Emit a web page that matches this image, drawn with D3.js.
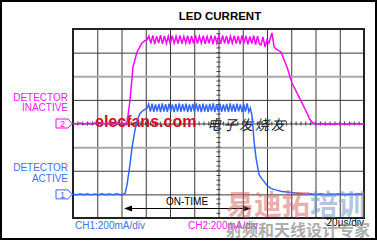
<!DOCTYPE html>
<html>
<head>
<meta charset="utf-8">
<script src="https://cdn.jsdelivr.net/npm/d3@7"></script>
<style>
body { margin: 0; background: #fff; }
svg { display: block; font-family: "Liberation Sans", Arial, sans-serif; }
</style>
</head>
<body>
<div id="chart"></div>
<script>
// scope capture, 12 div x 20us, 8 div vertical, 200mA/div per channel
var timeTicks = [0, 20, 40, 60, 80, 100, 120, 140, 160, 180, 200, 220, 240];
var divTicks = [0, 1, 2, 3, 4, 5, 6, 7, 8];
var ch1Offset = 1;   // div position of CH1 ground marker
var ch2Offset = 4;   // div position of CH2 ground marker

// CH2 : detector inactive [us, mA]
var ch2Trace = [
  [0, 5], [3, -5], [6, 3], [9, -4], [12, 4], [15, -3], [18, 5], [21, -2], [24, 4], [27, -4],
  [30, 3], [33, -3], [36, 4], [39, -2], [42, 3], [44.5, 0], [47, 199], [49.5, 479], [52.8, 606],
  [56.9, 682], [59, 700], [61, 708],
  [62.6, 742], [64.2, 676], [65.8, 746], [67.4, 672], [69.0, 740], [70.6, 680], [72.2, 748],
  [73.8, 674], [75.4, 742], [77.0, 678], [78.6, 738], [80.2, 672], [81.8, 744], [83.4, 680],
  [85.0, 740], [86.6, 676], [88.2, 746], [89.8, 674], [91.4, 738], [93.0, 680], [94.6, 744],
  [96.2, 672], [97.8, 742], [99.4, 678], [101.0, 748], [102.6, 676], [104.2, 740], [105.8, 680],
  [107.4, 744], [109.0, 674], [110.6, 738], [112.2, 678], [113.8, 746], [115.4, 672], [117.0, 742],
  [118.6, 680], [120.2, 740], [121.8, 674], [123.4, 746], [125.0, 678], [126.6, 742], [128.2, 672],
  [129.8, 738], [131.4, 680], [133.0, 744], [134.6, 676], [136.2, 740], [137.8, 672], [139.4, 746],
  [141.0, 678], [142.6, 742], [144.2, 670], [145.8, 738], [147.4, 676], [149.0, 744], [150.6, 668],
  [152.2, 740], [153.8, 672],
  [155.1, 665], [156.7, 733], [158.4, 648], [160, 708], [161.6, 682], [164.1, 767], [165.8, 648],
  [167.4, 631], [171.5, 606], [176.5, 479], [180.6, 343], [186.4, 225], [190, 150], [193, 89],
  [195, 40], [197.1, 13], [199, 0], [202, -6], [205, 2], [208, -8], [211, -3], [214, -9], [217, 0],
  [220, -6], [223, -2], [226, -8], [229, 1], [232, -5], [235, -1], [238, -6], [240, -3]
];

// CH1 : detector active [us, mA]
var ch1Trace = [
  [0, 3], [3, -3], [6, 4], [9, -2], [12, 5], [15, -4], [18, 3], [21, -3], [24, 5], [27, -2],
  [30, 4], [33, -3], [36, 5], [39, -2], [41.5, 4], [42.9, 8], [44.5, 76], [47, 254], [48.7, 398],
  [51.1, 542], [53, 630], [55.3, 686], [58, 712], [61, 729],
  [62.4, 764], [63.8, 700], [65.2, 768], [66.6, 698], [68.0, 762], [69.4, 702], [70.8, 766],
  [72.2, 696], [73.6, 770], [75.0, 700], [76.4, 764], [77.8, 698], [79.2, 768], [80.6, 702],
  [82.0, 762], [83.4, 696], [84.8, 766], [86.2, 700], [87.6, 770], [89.0, 698], [90.4, 764],
  [91.8, 702], [93.2, 768], [94.6, 696], [96.0, 762], [97.4, 700], [98.8, 766], [100.2, 698],
  [101.6, 770], [103.0, 702], [104.4, 764], [105.8, 696], [107.2, 768], [108.6, 700], [110.0, 762],
  [111.4, 698], [112.8, 766], [114.2, 702], [115.6, 770], [117.0, 696], [118.4, 764], [119.8, 700],
  [121.2, 768], [122.6, 698], [124.0, 762], [125.4, 702], [126.8, 766], [128.2, 696], [129.6, 770],
  [131.0, 700], [132.4, 764], [133.8, 698], [135.2, 768], [136.6, 702], [138.0, 762], [139.4, 696],
  [140.8, 766], [142.2, 700], [143.6, 770], [145.0, 698], [146.2, 730],
  [147.6, 669], [148.5, 559], [149.3, 449], [151, 305], [153.4, 169], [155.5, 135], [157.5, 110],
  [160, 75], [163.3, 51], [167, 38], [172.4, 25], [180, 15], [187.2, 8], [192, 2], [196, 6],
  [200, 0], [204, 5], [208, -1], [212, 4], [216, 1], [220, 5], [224, 0], [228, 4], [232, 1],
  [236, 5], [240, 2]
];

var onTime = [42.1, 146.8];

var width = 379, height = 242;
var plotLeft = 73, plotRight = 364, plotTop = 29, plotBottom = 218;
var pink = "#ff00ff", pinkText = "#f020f0", blue = "#3366ff", blueText = "#3f6fe6";

var svg = d3.select("#chart").append("svg")
    .attr("width", width)
    .attr("height", height);

svg.append("rect")
    .attr("x", 1).attr("y", 1)
    .attr("width", 375).attr("height", 238)
    .attr("fill", "#fff")
    .attr("stroke", "#000")
    .attr("stroke-width", 2);

var x = d3.scaleLinear().domain([0, 240]).range([plotLeft, plotRight]);
var y = d3.scaleLinear().domain([0, 8]).range([plotBottom, plotTop]);

// grid
var gx = svg.append("g")
    .attr("transform", "translate(0," + plotBottom + ")")
    .call(d3.axisBottom(x).tickValues(timeTicks.slice(1, -1)).tickSize(-(plotBottom - plotTop)).tickFormat(""));
gx.select(".domain").remove();
gx.selectAll("line").attr("stroke", "#3a3a3a").attr("stroke-width", 1);

var gy = svg.append("g")
    .attr("transform", "translate(" + plotLeft + ",0)")
    .call(d3.axisLeft(y).tickValues(divTicks.slice(1, -1)).tickSize(-(plotRight - plotLeft)).tickFormat(""));
gy.select(".domain").remove();
gy.selectAll("line")
    .attr("stroke", function (d) { return d === 3 || d === 6 ? "#a8a8a8" : "#3a3a3a"; })
    .attr("stroke-width", function (d) { return d === 3 || d === 6 ? 2 : 1; });

// minor ticks on the centre lines
var minorT = d3.range(0, 241, 4);
svg.append("g").selectAll("line")
    .data(minorT)
    .enter().append("line")
    .attr("x1", function (d) { return x(d); })
    .attr("x2", function (d) { return x(d); })
    .attr("y1", y(4) - 2)
    .attr("y2", y(4) + 2)
    .attr("stroke", "#3a3a3a");
var minorV = d3.range(0, 8.01, 0.2);
svg.append("g").selectAll("line")
    .data(minorV)
    .enter().append("line")
    .attr("x1", x(120) - 2)
    .attr("x2", x(120) + 2)
    .attr("y1", function (d) { return y(d); })
    .attr("y2", function (d) { return y(d); })
    .attr("stroke", "#3a3a3a");

svg.append("rect")
    .attr("x", plotLeft).attr("y", plotTop)
    .attr("width", plotRight - plotLeft).attr("height", plotBottom - plotTop)
    .attr("fill", "none")
    .attr("stroke", "#222")
    .attr("stroke-width", 2);

// watermark in the plot, under the traces
svg.append("text")
    .attr("x", 95).attr("y", 127)
    .attr("font-size", 16)
    .attr("font-weight", "bold")
    .attr("fill", "#cc1020")
    .text("elecfans.com");
svg.append("text")
    .attr("x", 207).attr("y", 130)
    .attr("font-size", 14)
    .attr("font-style", "italic")
    .attr("font-family", "Noto Sans CJK SC")
    .attr("fill", "#222")
    .attr("letter-spacing", 2)
    .text("电子发烧友");

// traces
function traceLine(offset) {
    return d3.line()
        .x(function (d) { return x(d[0]); })
        .y(function (d) { return y(offset + d[1] / 200); });
}
svg.append("path")
    .attr("d", traceLine(ch2Offset)(ch2Trace))
    .attr("fill", "none")
    .attr("stroke", pink)
    .attr("stroke-width", 1.5);
svg.append("path")
    .attr("d", traceLine(ch1Offset)(ch1Trace))
    .attr("fill", "none")
    .attr("stroke", blue)
    .attr("stroke-width", 1.5);

// channel markers
function marker(offset, color, label) {
    var cy = y(offset);
    var g = svg.append("g");
    g.append("path")
        .attr("d", "M56," + (cy - 4.5) + "H68L72," + cy + "L68," + (cy + 4.5) + "H56Z")
        .attr("fill", "#fff")
        .attr("stroke", color)
        .attr("stroke-width", 1);
    g.append("line")
        .attr("x1", 72).attr("x2", plotLeft).attr("y1", cy).attr("y2", cy)
        .attr("stroke", color);
    g.append("text")
        .attr("x", 62.5).attr("y", cy + 3.3)
        .attr("text-anchor", "middle")
        .attr("font-size", 9)
        .attr("fill", color)
        .text(label);
}
marker(ch2Offset, pink, "2");
marker(ch1Offset, blue, "1");

function sideLabel(lines, baseY, color) {
    svg.append("text")
        .attr("text-anchor", "end")
        .attr("font-size", 10)
        .attr("fill", color)
        .selectAll("tspan")
        .data(lines)
        .enter().append("tspan")
        .attr("x", 68)
        .attr("y", function (d, i) { return baseY + i * 10.7; })
        .text(function (d) { return d; });
}
sideLabel(["DETECTOR", "INACTIVE"], 100.5, pinkText);
sideLabel(["DETECTOR", "ACTIVE"], 171.3, blueText);

svg.append("text")
    .attr("x", 220).attr("y", 20)
    .attr("text-anchor", "middle")
    .attr("font-size", 11.5)
    .attr("font-weight", "bold")
    .text("LED CURRENT");

// ON-TIME arrow
var ay = 208.5;
svg.append("line")
    .attr("x1", x(onTime[0]) + 4).attr("x2", x(onTime[1]) - 4)
    .attr("y1", ay).attr("y2", ay)
    .attr("stroke", "#000").attr("stroke-width", 1.2);
svg.append("path")
    .attr("d", "M" + x(onTime[0]) + "," + ay + "l8,-3v6Z")
    .attr("fill", "#000");
svg.append("path")
    .attr("d", "M" + x(onTime[1]) + "," + ay + "l-8,-3v6Z")
    .attr("fill", "#000");
svg.append("text")
    .attr("x", 187).attr("y", 205)
    .attr("text-anchor", "middle")
    .attr("font-size", 10)
    .text("ON-TIME");

svg.append("text")
    .attr("x", 75).attr("y", 229)
    .attr("font-size", 10)
    .attr("fill", blueText)
    .text("CH1:200mA/div");
svg.append("text")
    .attr("x", 188).attr("y", 229)
    .attr("font-size", 10)
    .attr("fill", pinkText)
    .text("CH2:200mA/div");
svg.append("text")
    .attr("x", 364).attr("y", 226)
    .attr("text-anchor", "end")
    .attr("font-size", 10)
    .text("20µs/div");

// bottom-right watermark
var wm = svg.append("text")
    .attr("x", 226).attr("y", 215)
    .attr("font-size", 28)
    .attr("font-weight", "bold")
    .attr("font-family", "Noto Sans CJK SC")
    .attr("opacity", 0.5);
wm.append("tspan").attr("fill", "#d86060").text("易迪拓");
wm.append("tspan").attr("fill", "#6f8cc0").text("培训");
svg.append("text")
    .attr("x", 226).attr("y", 236)
    .attr("font-size", 16)
    .attr("font-weight", "bold")
    .attr("font-family", "Noto Sans CJK SC")
    .attr("fill", "#8a8a8a")
    .attr("opacity", 0.7)
    .text("射频和天线设计专家");
</script>
</body>
</html>
